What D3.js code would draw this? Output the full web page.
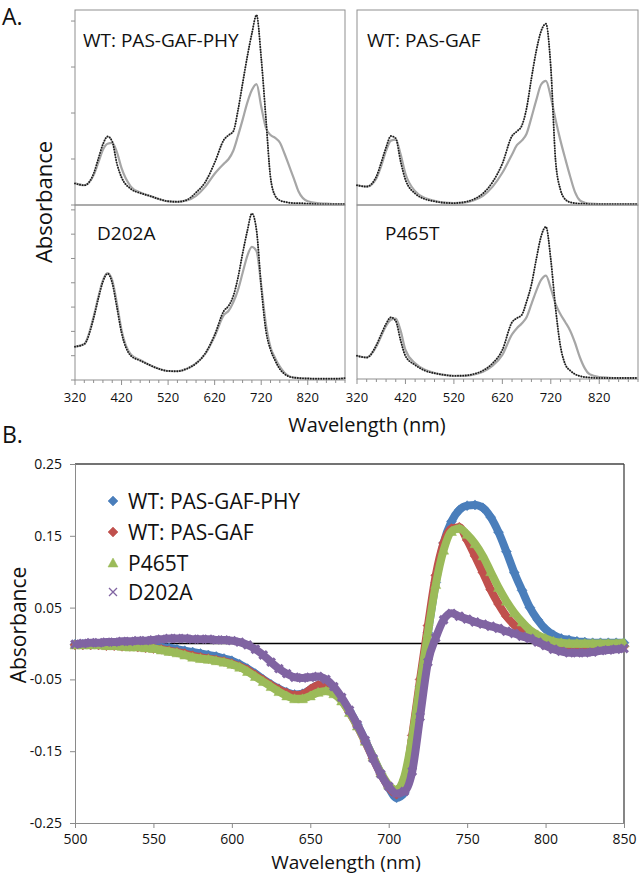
<!DOCTYPE html>
<html><head><meta charset="utf-8">
<script src="https://cdn.jsdelivr.net/npm/d3@7"></script>
<style>
body{margin:0;background:#fff}
svg{display:block}
text{font-family:"Open Sans",sans-serif;fill:#111}
</style>
</head><body>
<svg id="chart" width="641" height="876"></svg>
<script>
// ---------- Panel A data (absorbance, arbitrary units) ----------
const aWavelengths = [320,340,360,370,380,390,400,410,420,440,460,480,500,520,540,560,580,600,620,640,650,660,670,680,690,700,710,720,730,740,750,760,770,780,790,800,820,840,860,880,900];
const aTicks = [320,420,520,620,720,820];

const phyDark  = [0.047,0.043,0.068,0.100,0.132,0.149,0.138,0.090,0.060,0.035,0.026,0.020,0.013,0.008,0.007,0.011,0.027,0.050,0.092,0.142,0.152,0.160,0.205,0.264,0.322,0.373,0.413,0.320,0.190,0.060,0.020,0.010,0.007,0.005,0.004,0.004,0.003,0.002,0.002,0.002,0.002];
const phyLight = [0.047,0.043,0.065,0.092,0.120,0.133,0.135,0.115,0.080,0.040,0.027,0.020,0.013,0.008,0.007,0.010,0.020,0.040,0.068,0.090,0.100,0.118,0.150,0.185,0.222,0.250,0.263,0.214,0.168,0.152,0.146,0.136,0.112,0.085,0.058,0.030,0.008,0.004,0.003,0.002,0.002];

const gafDark  = [0.043,0.040,0.062,0.092,0.125,0.150,0.145,0.095,0.055,0.025,0.013,0.008,0.005,0.004,0.006,0.012,0.025,0.050,0.090,0.150,0.160,0.172,0.210,0.275,0.335,0.378,0.394,0.300,0.095,0.033,0.012,0.006,0.004,0.003,0.003,0.002,0.002,0.002,0.002,0.002,0.002];
const gafLight = [0.043,0.040,0.058,0.085,0.118,0.140,0.142,0.110,0.068,0.030,0.015,0.009,0.005,0.004,0.005,0.010,0.020,0.040,0.070,0.110,0.130,0.140,0.155,0.190,0.228,0.262,0.270,0.235,0.185,0.140,0.100,0.062,0.028,0.010,0.005,0.003,0.002,0.002,0.002,0.002,0.002];

const d202aDark  = [0.137,0.148,0.255,0.335,0.405,0.438,0.400,0.300,0.195,0.100,0.080,0.062,0.046,0.037,0.036,0.046,0.068,0.110,0.185,0.285,0.305,0.345,0.420,0.520,0.612,0.685,0.615,0.385,0.205,0.125,0.080,0.045,0.025,0.014,0.010,0.008,0.006,0.005,0.005,0.005,0.008];
const d202aLight = [0.137,0.148,0.260,0.340,0.410,0.440,0.410,0.315,0.205,0.105,0.082,0.062,0.046,0.037,0.036,0.046,0.068,0.108,0.180,0.268,0.285,0.320,0.370,0.440,0.510,0.548,0.530,0.390,0.230,0.135,0.090,0.055,0.030,0.016,0.010,0.008,0.006,0.005,0.005,0.005,0.005];

const p465tDark  = [0.096,0.089,0.140,0.185,0.228,0.255,0.240,0.160,0.095,0.058,0.035,0.024,0.017,0.013,0.014,0.020,0.035,0.065,0.120,0.235,0.252,0.265,0.320,0.390,0.495,0.590,0.630,0.495,0.290,0.135,0.060,0.035,0.020,0.012,0.008,0.006,0.004,0.004,0.004,0.004,0.004];
const p465tLight = [0.096,0.089,0.135,0.178,0.220,0.245,0.250,0.200,0.120,0.065,0.038,0.025,0.017,0.013,0.013,0.018,0.030,0.055,0.100,0.185,0.210,0.230,0.256,0.310,0.365,0.410,0.428,0.375,0.310,0.268,0.235,0.200,0.150,0.090,0.045,0.020,0.008,0.005,0.004,0.004,0.004];

// ---------- Panel B data (difference spectra) ----------
const bWavelengths = [500,505,510,515,520,525,530,535,540,545,550,555,560,565,570,575,580,585,590,595,600,605,610,615,620,625,630,635,640,645,650,655,660,665,670,675,680,685,690,695,700,705,710,715,720,725,730,735,740,745,750,755,760,765,770,775,780,785,790,795,800,805,810,815,820,825,830,835,840,845,850];
const bXTicks = [500,550,600,650,700,750,800,850];
const bYTicks = [-0.25,-0.15,-0.05,0.05,0.15,0.25];
const seriesNames = ["WT: PAS-GAF-PHY","WT: PAS-GAF","P465T","D202A"];

const diffPhy = [-0.001,-0.001,-0.001,-0.001,-0.002,-0.002,-0.002,-0.003,-0.003,-0.004,-0.004,-0.005,-0.006,-0.008,-0.010,-0.012,-0.014,-0.016,-0.018,-0.021,-0.024,-0.029,-0.035,-0.042,-0.050,-0.057,-0.063,-0.068,-0.071,-0.070,-0.064,-0.058,-0.058,-0.065,-0.078,-0.094,-0.113,-0.135,-0.158,-0.181,-0.201,-0.215,-0.208,-0.140,-0.060,0.015,0.085,0.140,0.170,0.186,0.192,0.193,0.189,0.176,0.155,0.128,0.099,0.074,0.050,0.033,0.020,0.012,0.007,0.005,0.003,0.002,0.001,0.001,0.001,0.001,0.001];
const diffGaf = [-0.002,-0.002,-0.002,-0.002,-0.003,-0.003,-0.004,-0.004,-0.005,-0.006,-0.007,-0.008,-0.010,-0.012,-0.014,-0.017,-0.019,-0.021,-0.023,-0.025,-0.028,-0.032,-0.037,-0.044,-0.051,-0.058,-0.064,-0.069,-0.072,-0.071,-0.064,-0.058,-0.058,-0.066,-0.079,-0.096,-0.115,-0.137,-0.160,-0.182,-0.200,-0.210,-0.196,-0.128,-0.050,0.025,0.095,0.140,0.160,0.162,0.144,0.122,0.099,0.075,0.055,0.038,0.026,0.017,0.010,0.003,-0.002,-0.006,-0.008,-0.009,-0.009,-0.008,-0.007,-0.006,-0.005,-0.004,-0.004];
const diffP465T = [-0.002,-0.002,-0.002,-0.002,-0.003,-0.003,-0.004,-0.005,-0.005,-0.006,-0.007,-0.009,-0.011,-0.013,-0.016,-0.019,-0.021,-0.022,-0.024,-0.026,-0.029,-0.033,-0.039,-0.046,-0.053,-0.060,-0.067,-0.073,-0.077,-0.077,-0.073,-0.068,-0.066,-0.070,-0.080,-0.096,-0.115,-0.136,-0.158,-0.180,-0.197,-0.204,-0.185,-0.130,-0.056,0.015,0.082,0.130,0.156,0.160,0.152,0.139,0.122,0.100,0.078,0.059,0.043,0.030,0.019,0.012,0.007,0.003,0.001,0.000,0.000,0.000,0.000,0.000,0.000,0.000,0.001];
const diffD202A = [-0.001,0.000,0.001,0.001,0.002,0.002,0.003,0.003,0.004,0.004,0.005,0.006,0.007,0.007,0.007,0.006,0.006,0.006,0.005,0.005,0.004,0.002,-0.002,-0.008,-0.016,-0.026,-0.035,-0.042,-0.047,-0.048,-0.047,-0.046,-0.050,-0.060,-0.075,-0.093,-0.113,-0.135,-0.160,-0.182,-0.199,-0.209,-0.206,-0.178,-0.102,-0.026,0.008,0.033,0.042,0.038,0.034,0.030,0.027,0.024,0.021,0.017,0.014,0.010,0.007,0.002,-0.003,-0.008,-0.011,-0.013,-0.013,-0.013,-0.012,-0.010,-0.009,-0.008,-0.007];

// ---------- drawing ----------
const svg = d3.select("#chart");
const frameColor = "#8f8f8f";

const panels = [
  {name:"WT: PAS-GAF-PHY", dark:phyDark, light:phyLight, x0:75, x1:345, yb:205, yt:10, ymax:0.424, yTicks:[0,0.1,0.2,0.3,0.4], xAxis:false, lx:83, ly:47},
  {name:"WT: PAS-GAF", dark:gafDark, light:gafLight, x0:357, x1:638, yb:205, yt:10, ymax:0.424, yTicks:null, xAxis:false, lx:367, ly:47},
  {name:"D202A", dark:d202aDark, light:d202aLight, x0:75, x1:345, yb:380, yt:205, ymax:0.72, yTicks:[0,0.1,0.2,0.3,0.4,0.5,0.6,0.7], xAxis:true, lx:97, ly:240},
  {name:"P465T", dark:p465tDark, light:p465tLight, x0:357, x1:638, yb:379, yt:205, ymax:0.72, yTicks:null, xAxis:true, lx:385, ly:240}
];

panels.forEach(p => {
  const x = d3.scaleLinear().domain([320,900]).range([p.x0,p.x1]);
  const y = d3.scaleLinear().domain([0,p.ymax]).range([p.yb,p.yt]);
  const g = svg.append("g");
  g.append("rect").attr("x",p.x0).attr("y",p.yt).attr("width",p.x1-p.x0).attr("height",p.yb-p.yt)
    .attr("fill","none").attr("stroke",frameColor).attr("stroke-width",1);
  if (p.yTicks) {
    g.selectAll(null).data(p.yTicks).enter().append("line")
      .attr("x1",p.x0-4).attr("x2",p.x0).attr("y1",d=>y(d)).attr("y2",d=>y(d))
      .attr("stroke",frameColor);
  }
  if (p.xAxis) {
    const minor = d3.range(320,901,20);
    g.selectAll(null).data(minor).enter().append("line")
      .attr("x1",d=>x(d)).attr("x2",d=>x(d)).attr("y1",p.yb).attr("y2",d=>p.yb+((d-320)%100===0?5:3))
      .attr("stroke",frameColor);
    g.selectAll(null).data(aTicks).enter().append("text")
      .attr("x",d=>x(d)).attr("y",402).attr("text-anchor","middle")
      .attr("font-size",13).text(d=>d);
  }
  const line = d3.line().x((d,i)=>x(aWavelengths[i])).y(d=>y(d)).curve(d3.curveMonotoneX);
  g.append("path").attr("d",line(p.light)).attr("fill","none").attr("stroke","#a6a6a6").attr("stroke-width",2.2);
  g.append("path").attr("d",line(p.dark)).attr("fill","none").attr("stroke","#b8b8b8").attr("stroke-width",1.6);
  g.append("path").attr("d",line(p.dark)).attr("fill","none").attr("stroke","#1a1a1a").attr("stroke-width",1.9)
    .attr("stroke-dasharray","0 2.6").attr("stroke-linecap","round");
  g.append("text").attr("x",p.lx).attr("y",p.ly).attr("font-size",19).text(p.name);
});

svg.append("text").attr("x",2).attr("y",25).attr("font-size",23).text("A.");
svg.append("text").attr("transform","translate(52,202) rotate(-90)").attr("text-anchor","middle")
  .attr("font-size",22).text("Absorbance");
svg.append("text").attr("x",367).attr("y",432).attr("text-anchor","middle").attr("font-size",20).text("Wavelength (nm)");

// Panel B
svg.append("text").attr("x",2).attr("y",443).attr("font-size",23).text("B.");
const bx = d3.scaleLinear().domain([500,850]).range([75,624]);
const by = d3.scaleLinear().domain([-0.25,0.25]).range([823,464]);
const gb = svg.append("g");

gb.append("line").attr("x1",75).attr("x2",624).attr("y1",464).attr("y2",464).attr("stroke","#444").attr("stroke-width",1.3);
gb.append("line").attr("x1",624).attr("x2",624).attr("y1",464).attr("y2",823).attr("stroke","#444").attr("stroke-width",1.3);

const yAxis = d3.axisLeft(by).tickValues(bYTicks).tickSize(5).tickPadding(8).tickFormat(d=>d.toFixed(2));
const ya = gb.append("g").attr("transform","translate(75,0)").call(yAxis);
ya.select(".domain").attr("stroke","#8a8a8a");
ya.selectAll(".tick line").attr("stroke","#8a8a8a");
ya.selectAll("text").attr("font-size",14).attr("font-family","'Open Sans',sans-serif").attr("fill","#111");

const xAxis = d3.axisBottom(bx).tickValues(bXTicks).tickSize(5).tickPadding(6).tickFormat(d=>d);
const xa = gb.append("g").attr("transform","translate(0,823)").call(xAxis);
xa.select(".domain").attr("stroke","#8a8a8a");
xa.selectAll(".tick line").attr("stroke","#8a8a8a");
xa.selectAll("text").attr("font-size",14).attr("font-family","'Open Sans',sans-serif").attr("fill","#111");

gb.append("line").attr("x1",75).attr("x2",624).attr("y1",by(0)).attr("y2",by(0)).attr("stroke","#000").attr("stroke-width",1.5);

const colors = ["#4a7ebb","#c0504d","#9bbb59","#8064a2"];
const shapes = ["diamond","diamond","triangle","times"];
const seriesData = [diffPhy, diffGaf, diffP465T, diffD202A];

function markerPath(shape, r) {
  if (shape === "diamond") return `M0,${-r}L${r},0L0,${r}L${-r},0Z`;
  if (shape === "triangle") return `M0,${-r}L${r},${r*0.8}L${-r},${r*0.8}Z`;
  return `M${-r},${-r}L${r},${r}M${-r},${r}L${r},${-r}`;
}

const bLine = d3.line().x((d,i)=>bx(bWavelengths[i])).y(d=>by(d)).curve(d3.curveMonotoneX);
seriesData.forEach((vals, si) => {
  const g = gb.append("g");
  g.append("path").attr("d",bLine(vals)).attr("fill","none").attr("stroke",colors[si]).attr("stroke-width",8)
    .attr("stroke-linejoin","round");
  g.selectAll(null).data(vals).enter().append("path")
    .attr("transform",(d,i)=>`translate(${bx(bWavelengths[i])},${by(d)})`)
    .attr("d",markerPath(shapes[si], shapes[si]==="times"?3.8:5))
    .attr("fill",shapes[si]==="times"?"none":colors[si])
    .attr("stroke",colors[si]).attr("stroke-width",shapes[si]==="times"?3.2:0.5);
});

const legY = [501,532,563,592];
seriesNames.forEach((n, i) => {
  const lg = gb.append("g");
  lg.append("path").attr("transform",`translate(113,${legY[i]})`)
    .attr("d",markerPath(shapes[i], shapes[i]==="times"?4:5))
    .attr("fill",shapes[i]==="times"?"none":colors[i])
    .attr("stroke",colors[i]).attr("stroke-width",shapes[i]==="times"?1.3:0.5);
  lg.append("text").attr("x",128).attr("y",legY[i]).attr("dy","0.36em").attr("font-size",21).text(n);
});

svg.append("text").attr("transform","translate(26,625) rotate(-90)").attr("text-anchor","middle")
  .attr("font-size",21).text("Absorbance");
svg.append("text").attr("x",346).attr("y",869).attr("text-anchor","middle").attr("font-size",19).text("Wavelength (nm)");
</script>
</body></html>
